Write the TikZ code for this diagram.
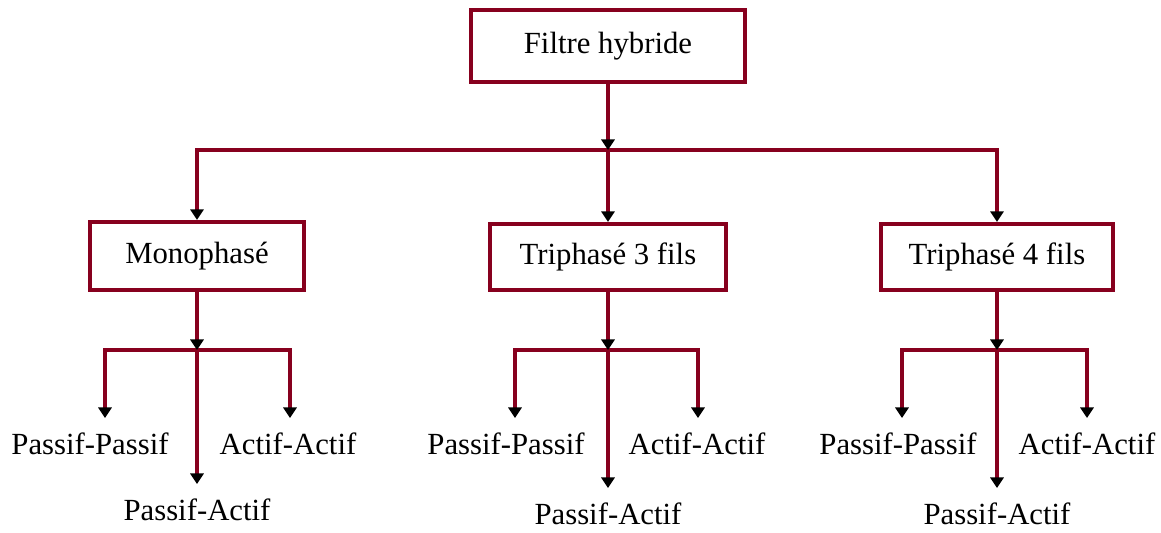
\documentclass[tikz,border=0pt]{standalone}
\usepackage{fontspec}
\setmainfont{Liberation Serif}
\usetikzlibrary{arrows.meta}
\definecolor{bordeaux}{RGB}{135,0,30}

\begin{document}
\begin{tikzpicture}[x=0.02cm, y=-0.02cm,
    font=\fontsize{17.5}{20}\selectfont,
    bloc/.style={draw=bordeaux, line width=2.4pt, inner sep=0pt},
    trait/.style={draw=bordeaux, line width=2.3pt},
    fleche/.style={trait, -{Triangle[black, width=7.5pt, length=6pt]}},
    feuille/.style={inner xsep=0pt, inner ysep=8pt, anchor=north}]
    \useasboundingbox (0,0) rectangle (1161,533);

    \node[bloc, minimum width=5.48cm, minimum height=1.44cm] (filtre) at (608,46) {Filtre hybride};
    \node[bloc, minimum width=4.28cm, minimum height=1.36cm] (mono) at (197,256) {Monophasé};
    \node[bloc, minimum width=4.72cm, minimum height=1.32cm] (tri3) at (608,257) {Triphasé 3 fils};
    \node[bloc, minimum width=4.64cm, minimum height=1.32cm] (tri4) at (997,257) {Triphasé 4 fils};

    % premier niveau
    \coordinate (j0) at (filtre.south |- 0,150);
    \draw[fleche] (j0) -| (mono.north);
    \draw[fleche] (j0) -| (tri4.north);
    \draw[fleche] (j0) -- (tri3.north);
    \draw[fleche] (filtre.south) -- (j0);

    % second niveau
    \foreach \b/\g/\d/\pp/\aa/\t in {mono/105/290/90/288/484,
                                     tri3/515/698/506/697/488,
                                     tri4/902/1087/898/1087/488} {
      \coordinate (\b-j) at (\b.south |- 0,350);
      \coordinate (\b-g) at (\g,418);
      \coordinate (\b-d) at (\d,418);
      \node[feuille] (\b-pp) at (\pp,418) {Passif-Passif};
      \node[feuille] (\b-aa) at (\aa,418) {Actif-Actif};
      \node[feuille] (\b-pa) at (\b-j |- 0,\t) {Passif-Actif};
      \draw[fleche] (\b-j) -| (\b-g);
      \draw[fleche] (\b-j) -| (\b-d);
      \draw[fleche] (\b-j) -- (\b-pa.north);
      \draw[fleche] (\b.south) -- (\b-j);
    }
\end{tikzpicture}
\end{document}
